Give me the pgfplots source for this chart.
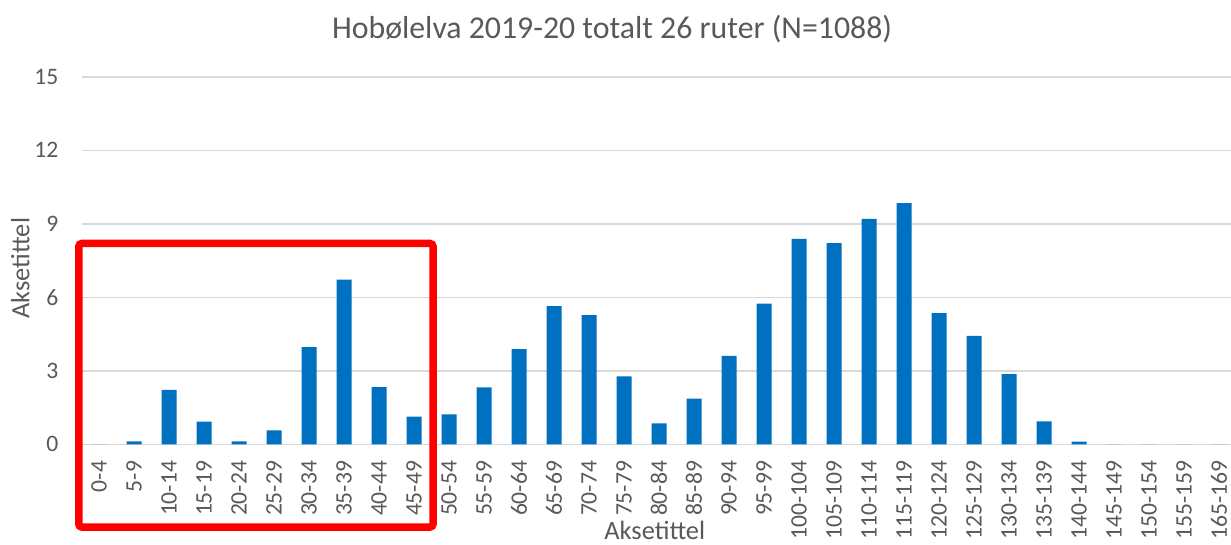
\documentclass[border=0pt]{standalone}
\usepackage{fontspec}
\setmainfont{Carlito}
\usepackage{pgfplots}
\pgfplotsset{compat=1.18}
\definecolor{barblue}{HTML}{0070C0}
\definecolor{gridgray}{HTML}{D9D9D9}
\definecolor{txtgray}{HTML}{595959}
\begin{document}
\begin{tikzpicture}
\useasboundingbox (-40.75pt,-50.35pt) rectangle (574.75pt,222.15pt);
\begin{axis}[
  at={(0pt,0pt)}, anchor=south west,
  scale only axis, width=574.75pt, height=183.75pt,
  xmin=-0.5, xmax=32.343, ymin=0, ymax=15,
  clip=false,
  ybar, bar width=7.5pt,
  xtick={0,...,32},
  xticklabels={0-4,5-9,10-14,15-19,20-24,25-29,30-34,35-39,40-44,45-49,50-54,55-59,60-64,65-69,70-74,75-79,80-84,85-89,90-94,95-99,100-104,105-109,110-114,115-119,120-124,125-129,130-134,135-139,140-144,145-149,150-154,155-159,165-169},
  ytick={0,3,6,9,12,15},
  ymajorgrids, grid style={gridgray, line width=0.75pt},
  axis line style={draw=none},
  major tick length=0pt,
  tick style={draw=none},
  /pgf/number format/assume math mode=true,
  ticklabel style={font=\fontsize{11.8}{13}\selectfont, text=txtgray},
  yticklabel style={anchor=east, inner sep=0pt, xshift=-11.4pt},
  xticklabel style={yshift=-8.1pt, rotate=90, anchor=east, inner sep=0pt},
  xlabel={Aksetittel},
  xlabel style={at={(axis description cs:0.4987,0)}, anchor=base, yshift=-47.6pt, font=\fontsize{13.2}{15}\selectfont, text=txtgray},
  ylabel={Aksetittel},
  ylabel style={at={(axis description cs:-0.0454,0.479)}, anchor=base, rotate=0, font=\fontsize{13.2}{15}\selectfont, text=txtgray},
  every axis title shift=0pt,
  title={Hobølelva 2019-20 totalt 26 ruter (N=1088)},
  title style={at={(axis description cs:0.4615,1.1029)}, anchor=base, font=\fontsize{15.9}{18}\selectfont, text=txtgray},
]
\addplot[fill=barblue, draw=none] coordinates {
(0,0) (1,0.12) (2,2.22) (3,0.93) (4,0.12) (5,0.57) (6,3.97) (7,6.72) (8,2.33) (9,1.13)
(10,1.22) (11,2.32) (12,3.88) (13,5.64) (14,5.27) (15,2.77) (16,0.85) (17,1.86) (18,3.61) (19,5.74)
(20,8.38) (21,8.21) (22,9.20) (23,9.84) (24,5.35) (25,4.43) (26,2.86) (27,0.94) (28,0.11)
(29,0) (30,0) (31,0) (32,0)
};
\draw[red, line width=3.75pt, rounded corners=1.5pt] (axis cs:-0.577,-3.376) rectangle (axis cs:9.543,8.196);
\end{axis}
\end{tikzpicture}
\end{document}
